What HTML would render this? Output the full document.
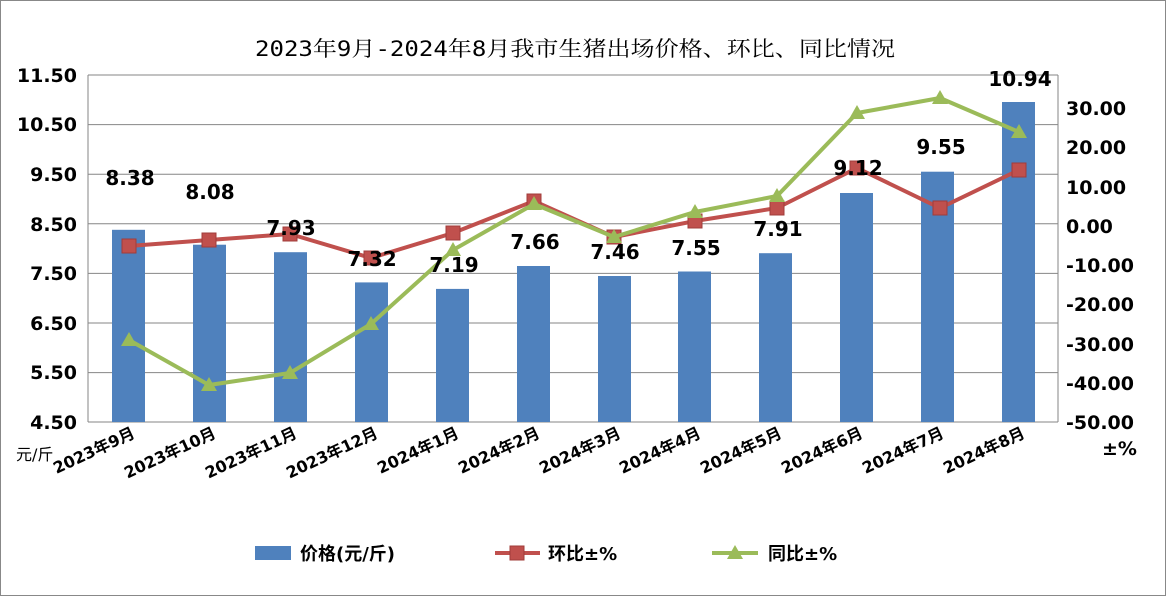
<!DOCTYPE html>
<html><head><meta charset="utf-8"><style>
html,body{margin:0;padding:0;background:#fff;}
svg{display:block;font-family:"DejaVu Sans","Noto Sans CJK SC",sans-serif;}
</style></head><body>
<svg width="1166" height="596" viewBox="0 0 1166 596" xmlns="http://www.w3.org/2000/svg">
<rect x="0.5" y="0.5" width="1165" height="595" fill="#fff" stroke="#888"/>
<text x="255" y="56" font-size="21" textLength="640" lengthAdjust="spacingAndGlyphs" font-family="'DejaVu Sans Mono','Noto Serif CJK SC',serif">2023年9月-2024年8月我市生猪出场价格、环比、同比情况</text>
<g stroke="#868686" stroke-width="1">
<line x1="88" y1="75" x2="1058" y2="75"/><line x1="88" y1="124.6" x2="1058" y2="124.6"/>
<line x1="88" y1="174.2" x2="1058" y2="174.2"/><line x1="88" y1="223.8" x2="1058" y2="223.8"/>
<line x1="88" y1="273.4" x2="1058" y2="273.4"/><line x1="88" y1="323" x2="1058" y2="323"/>
<line x1="88" y1="372.6" x2="1058" y2="372.6"/>
</g>
<g stroke="#868686"><line x1="88" y1="75" x2="88" y2="422"/><line x1="1058" y1="75" x2="1058" y2="422"/><line x1="88" y1="422" x2="1058" y2="422"/></g>
<g font-size="19" font-weight="bold" text-anchor="end">
<text x="77" y="82">11.50</text><text x="77" y="131">10.50</text><text x="77" y="181">9.50</text><text x="77" y="231">8.50</text><text x="77" y="280">7.50</text><text x="77" y="330">6.50</text><text x="77" y="379">5.50</text><text x="77" y="429">4.50</text>
</g>
<g font-size="19" font-weight="bold" text-anchor="start">
<text x="1066" y="115">30.00</text><text x="1066" y="154">20.00</text><text x="1066" y="194">10.00</text><text x="1066" y="233">0.00</text><text x="1066" y="272">-10.00</text><text x="1066" y="311">-20.00</text><text x="1066" y="351">-30.00</text><text x="1066" y="390">-40.00</text><text x="1066" y="429">-50.00</text>
<text x="1102" y="455">±%</text>
</g>
<text x="16" y="460" font-size="16">元/斤</text>
<g fill="#4f81bd">
<rect x="112" y="229.8" width="33" height="192.2"/><rect x="193" y="244.7" width="33" height="177.3"/>
<rect x="274" y="252.2" width="33" height="169.8"/><rect x="355" y="282.4" width="33" height="139.6"/>
<rect x="436" y="288.9" width="33" height="133.1"/><rect x="517" y="266.0" width="33" height="156"/>
<rect x="598" y="276" width="33" height="146"/><rect x="678" y="271.5" width="33" height="150.5"/>
<rect x="759" y="253.2" width="33" height="168.8"/><rect x="840" y="193.0" width="33" height="229"/>
<rect x="921" y="171.7" width="33" height="250.3"/><rect x="1002" y="102" width="33" height="320"/>
</g>
<polyline fill="none" stroke="#c0504d" stroke-width="4" points="129,246 209,240 290,234 371,258 453,233 534,201 614,237 695,221 777,208 857,168 940,208 1019,170"/>
<g fill="#c0504d" stroke="#a03c3a">
<rect x="122" y="239" width="14" height="14"/><rect x="202" y="233" width="14" height="14"/><rect x="283" y="227" width="14" height="14"/><rect x="364" y="251" width="14" height="14"/><rect x="446" y="226" width="14" height="14"/><rect x="527" y="194" width="14" height="14"/><rect x="607" y="230" width="14" height="14"/><rect x="688" y="214" width="14" height="14"/><rect x="770" y="201" width="14" height="14"/><rect x="850" y="161" width="14" height="14"/><rect x="933" y="201" width="14" height="14"/><rect x="1012" y="163" width="14" height="14"/>
</g>
<polyline fill="none" stroke="#9bbb59" stroke-width="4" points="129,340 209,385 290,373 371,324 453,250 534,204 614,237 695,212 777,196 857,113 940,98 1019,132"/>
<g fill="#9bbb59">
<path d="M129,332l8,14h-16z"/><path d="M209,377l8,14h-16z"/><path d="M290,365l8,14h-16z"/><path d="M371,316l8,14h-16z"/><path d="M453,242l8,14h-16z"/><path d="M534,196l8,14h-16z"/><path d="M614,229l8,14h-16z"/><path d="M695,204l8,14h-16z"/><path d="M777,188l8,14h-16z"/><path d="M857,105l8,14h-16z"/><path d="M940,90l8,14h-16z"/><path d="M1019,124l8,14h-16z"/>
</g>
<g font-size="20" font-weight="bold" text-anchor="middle">
<text x="130" y="185">8.38</text><text x="210" y="199">8.08</text><text x="291" y="235">7.93</text><text x="372" y="266">7.32</text><text x="454" y="272">7.19</text><text x="535" y="249">7.66</text><text x="615" y="259">7.46</text><text x="696" y="255">7.55</text><text x="778" y="236">7.91</text><text x="858" y="175">9.12</text><text x="941" y="154">9.55</text><text x="1020" y="86">10.94</text>
</g>
<g font-size="16" font-weight="bold" text-anchor="end">
<text transform="translate(136,437) rotate(-25)">2023年9月</text>
<text transform="translate(217,437) rotate(-25)">2023年10月</text>
<text transform="translate(298,437) rotate(-25)">2023年11月</text>
<text transform="translate(379,437) rotate(-25)">2023年12月</text>
<text transform="translate(460,437) rotate(-25)">2024年1月</text>
<text transform="translate(541,437) rotate(-25)">2024年2月</text>
<text transform="translate(622,437) rotate(-25)">2024年3月</text>
<text transform="translate(702,437) rotate(-25)">2024年4月</text>
<text transform="translate(783,437) rotate(-25)">2024年5月</text>
<text transform="translate(864,437) rotate(-25)">2024年6月</text>
<text transform="translate(945,437) rotate(-25)">2024年7月</text>
<text transform="translate(1026,437) rotate(-25)">2024年8月</text>
</g>
<rect x="255" y="546" width="36" height="14" fill="#4f81bd"/>
<text x="300" y="560" font-size="18" font-weight="bold">价格(元/斤)</text>
<line x1="495" y1="553" x2="540" y2="553" stroke="#c0504d" stroke-width="4"/>
<rect x="510" y="546" width="14" height="14" fill="#c0504d" stroke="#a03c3a"/>
<text x="548" y="560" font-size="18" font-weight="bold">环比±%</text>
<line x1="712" y1="553" x2="758" y2="553" stroke="#9bbb59" stroke-width="4"/>
<path d="M735,545l8,14h-16z" fill="#9bbb59"/>
<text x="768" y="560" font-size="18" font-weight="bold">同比±%</text>
</svg>
</body></html>
